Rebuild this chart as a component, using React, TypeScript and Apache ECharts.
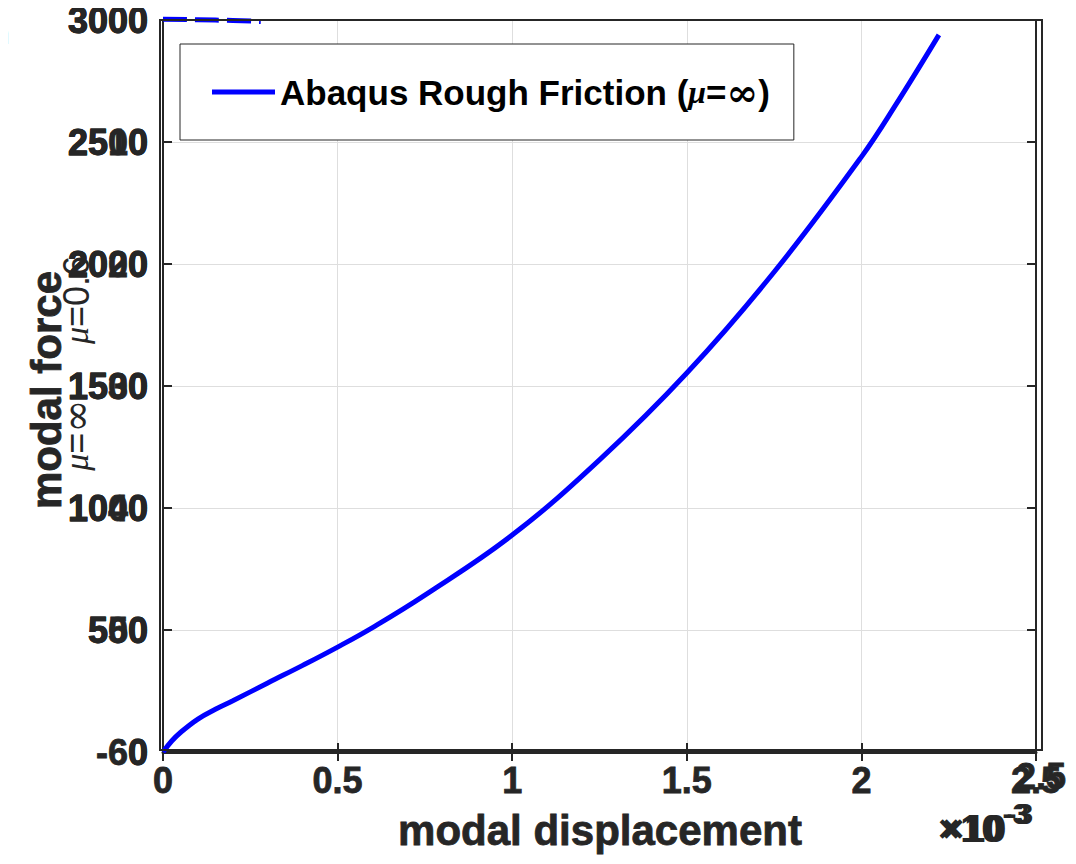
import React, { useEffect, useRef } from "react";
import * as echarts from "echarts";

// modal displacement (x 1e-3) and modal force
const dispValues = [0, 0.025, 0.05, 0.1, 0.15, 0.2, 0.3, 0.4, 0.5, 0.6, 0.75, 1.0, 1.25, 1.5, 1.75, 2.0, 2.1, 2.222];
const forceValues = [0, 45, 80, 135, 175, 210, 283, 355, 430, 510, 643, 889, 1197, 1553, 1967, 2439, 2656, 2939];
// dashed curve partly hidden at the top
const dashDisp = [0, 0.1, 0.2, 0.28];
const dashForce = [3003, 3001, 2998, 2994];
const yGhostLabels = ["-60", "550", "1040", "1530", "2020", "2510", "3000"];
const seriesName = "Abaqus Rough Friction";

const TXT = "#262626";
const FONT = "'Liberation Sans', Arial, sans-serif";

export default function App() {
  const ref = useRef<HTMLDivElement>(null);
  useEffect(() => {
    if (!ref.current) return;
    const chart = echarts.init(ref.current, null, { renderer: "svg" });
    const grid = { left: 163, right: 40, top: 20, bottom: 112 };
    const labelStyle = {
      color: TXT,
      fontWeight: "bold" as const,
      fontSize: 36,
      fontFamily: FONT,
      textBorderColor: TXT,
      textBorderWidth: 0.8,
    };
    const heavy = { stroke: TXT, lineWidth: 0.8 };
    const muRich = {
      m: { fontSize: 34, fontStyle: "italic", fontFamily: "'Liberation Serif', serif", fill: TXT },
      a: { fontSize: 36, fontFamily: FONT, fill: TXT },
      i: { fontSize: 40, fontFamily: "'DejaVu Serif', serif", fill: TXT },
    };
    chart.setOption({
      animation: false,
      backgroundColor: "#fff",
      grid,
      legend: {
        data: [seriesName],
        left: 180,
        top: 44,
        padding: [29, 24, 29, 32],
        itemWidth: 63,
        itemHeight: 5,
        icon: "rect",
        borderColor: TXT,
        borderWidth: 1,
        backgroundColor: "#fff",
        formatter: () => "{a|Abaqus Rough Friction (}{m|μ}{a|=}{i|∞}{a|)}",
        textStyle: {
          color: "#000",
          fontFamily: FONT,
          fontWeight: "bold",
          fontSize: 35,
          lineHeight: 34,
          rich: {
            a: { fontSize: 35, fontWeight: "bold", fontFamily: FONT, color: "#000" },
            m: { fontSize: 32, fontStyle: "italic", fontFamily: "'Liberation Serif', serif", color: "#000" },
            i: { fontSize: 38, fontFamily: "'DejaVu Serif', serif", color: "#000" },
          },
        },
      },
      xAxis: [
        {
          type: "value",
          min: 0,
          max: 2.5,
          interval: 0.5,
          axisLine: { show: true, lineStyle: { color: TXT, width: 2 } },
          axisTick: { show: true, inside: true, length: 9, lineStyle: { color: TXT, width: 2 } },
          axisLabel: { ...labelStyle, margin: 10, formatter: (v: number) => String(v) },
          splitLine: { show: true, lineStyle: { color: "#dedede", width: 1 } },
        },
        {
          type: "value",
          position: "top",
          min: 0,
          max: 2.5,
          interval: 0.5,
          axisLine: { show: true, lineStyle: { color: TXT, width: 3 } },
          axisTick: { show: true, inside: true, length: 9, lineStyle: { color: TXT, width: 2 } },
          axisLabel: { show: false },
          splitLine: { show: false },
        },
      ],
      yAxis: [
        {
          type: "value",
          min: 0,
          max: 3000,
          interval: 500,
          axisLine: { show: true, lineStyle: { color: TXT, width: 2 } },
          axisTick: { show: true, inside: true, length: 9, lineStyle: { color: TXT, width: 2 } },
          axisLabel: { ...labelStyle, margin: 15, formatter: (v: number) => String(v) },
          splitLine: { show: true, lineStyle: { color: "#dedede", width: 1 } },
        },
        {
          type: "value",
          position: "left",
          min: 0,
          max: 3000,
          interval: 500,
          axisLine: { show: false },
          axisTick: { show: false },
          axisLabel: {
            ...labelStyle,
            margin: 15,
            formatter: (v: number) => yGhostLabels[Math.round(v / 500)] ?? "",
          },
          splitLine: { show: false },
        },
        {
          type: "value",
          position: "right",
          min: 0,
          max: 3000,
          interval: 500,
          axisLine: { show: true, lineStyle: { color: TXT, width: 2 } },
          axisTick: { show: true, inside: true, length: 9, lineStyle: { color: TXT, width: 2 } },
          axisLabel: { show: false },
          splitLine: { show: false },
        },
      ],
      series: [
        {
          name: seriesName,
          type: "line",
          data: dispValues.map((x, i) => [x, forceValues[i]]),
          smooth: 0.4,
          showSymbol: false,
          lineStyle: { color: "#0000ff", width: 5 },
          itemStyle: { color: "#0000ff" },
        },
        {
          name: "dashed",
          type: "line",
          data: dashDisp.map((x, i) => [x, dashForce[i]]),
          smooth: true,
          showSymbol: false,
          clip: false,
          lineStyle: { color: "#0000ff", width: 5, type: [24, 8] },
          itemStyle: { color: "#0000ff" },
          z: 1,
        },
      ],
      graphic: [
        {
          type: "rect",
          shape: { x: 160, y: 20, width: 882, height: 730 },
          style: { fill: "none", stroke: TXT, lineWidth: 2 },
          silent: true,
          z: 5,
        },
        {
          type: "text",
          x: 600,
          y: 830,
          style: {
            text: "modal displacement",
            fill: TXT,
            ...heavy,
            font: `bold 42px ${FONT}`,
            align: "center",
            verticalAlign: "middle",
          },
        },
        {
          type: "text",
          x: 46,
          y: 390,
          rotation: Math.PI / 2,
          style: {
            text: "modal force",
            fill: TXT,
            ...heavy,
            font: `bold 42px ${FONT}`,
            align: "center",
            verticalAlign: "middle",
          },
        },
        {
          type: "text",
          x: 76,
          y: 300,
          rotation: Math.PI / 2,
          style: {
            text: "{m|μ}{a|=0.6}",
            fill: TXT,
            align: "center",
            verticalAlign: "middle",
            rich: muRich,
          },
        },
        {
          type: "text",
          x: 76,
          y: 435,
          rotation: Math.PI / 2,
          style: {
            text: "{m|μ}{a|=}{i|∞}",
            fill: TXT,
            align: "center",
            verticalAlign: "middle",
            rich: muRich,
          },
        },
        {
          type: "text",
          x: 1041,
          y: 776,
          style: {
            text: "2.5",
            fill: TXT,
            ...heavy,
            font: `bold 36px ${FONT}`,
            align: "center",
            verticalAlign: "middle",
          },
        },
        ...[0, 4].map((dx) => ({
          type: "text",
          x: 938 + dx,
          y: 860,
          style: {
            text: "{a|×10}{s|-3}",
            fill: TXT,
            align: "left",
            verticalAlign: "bottom",
            rich: {
              a: { fontSize: 38, fontWeight: "bold", fontFamily: FONT, fill: TXT },
              s: { fontSize: 30, fontWeight: "bold", fontFamily: FONT, fill: TXT, verticalAlign: "top", padding: [0, 0, 32, 0] },
            },
          },
        })),
        {
          type: "text",
          x: -7,
          y: 18,
          style: { text: "n", fill: "#404040", font: `30px ${FONT}` },
        },
      ],
    });
    return () => chart.dispose();
  }, []);
  return <div ref={ref} style={{ width: 1076, height: 864, marginLeft: -8, marginTop: -8 }} />;
}
